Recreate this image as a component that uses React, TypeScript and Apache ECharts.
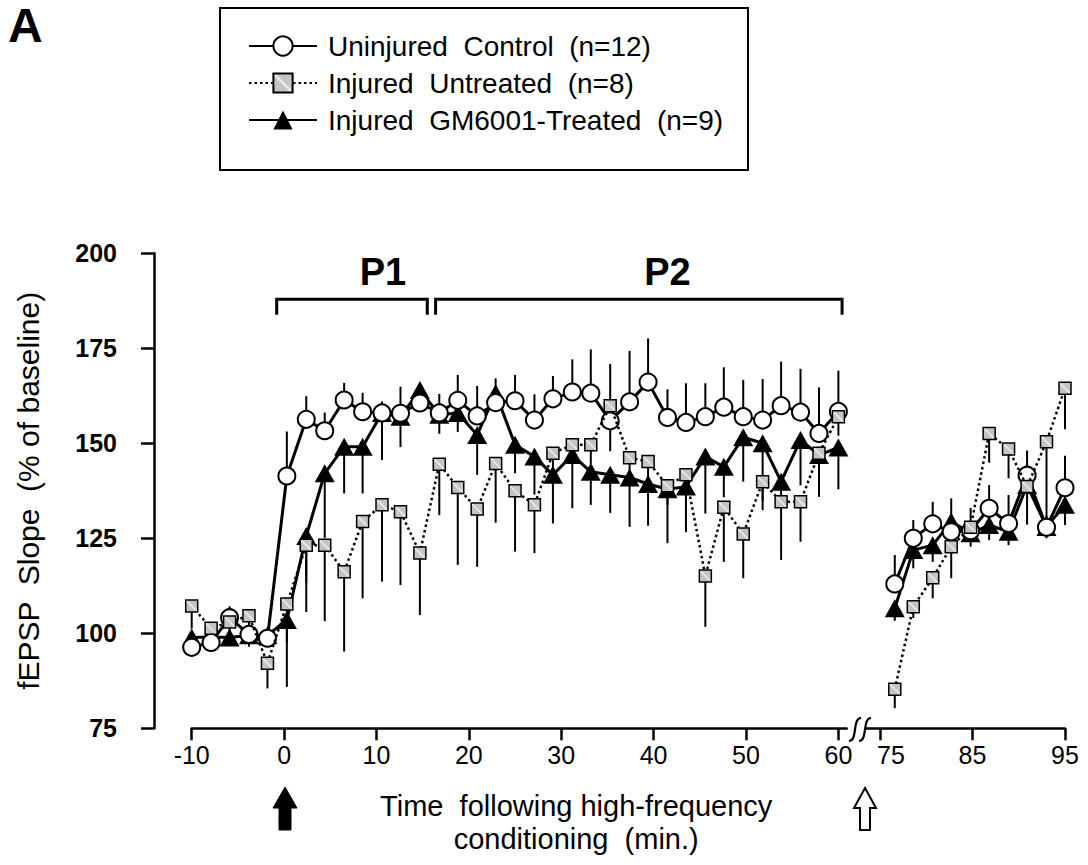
import { useEffect, useRef } from 'react';
import * as echarts from 'echarts';

// ---- data ----
const NAMES = ['Uninjured  Control  (n=12)', 'Injured  Untreated  (n=8)', 'Injured  GM6001-Treated  (n=9)'];

const leftTimes = [-10, -7.9, -5.9, -3.8, -1.8, 0.3, 2.4, 4.4, 6.5, 8.5, 10.6, 12.6, 14.7, 16.8, 18.8, 20.9, 22.9, 25.0, 27.1, 29.1, 31.2, 33.2, 35.3, 37.4, 39.4, 41.5, 43.5, 45.6, 47.6, 49.7, 51.8, 53.8, 55.9, 57.9, 60.0];
const rightTimes = [76.6, 78.6, 80.7, 82.7, 84.8, 86.8, 88.9, 90.9, 93.0, 95.0];

const controlLeft = [96.3, 97.6, 104.1, 99.7, 98.7, 141.4, 156.3, 153.3, 161.4, 158.3, 158.0, 157.9, 160.6, 158.0, 161.3, 157.2, 160.7, 161.2, 156.1, 161.7, 163.5, 163.2, 155.9, 160.9, 166.1, 156.8, 155.5, 157.0, 159.5, 157.0, 156.1, 159.9, 158.2, 152.6, 158.4];
const controlLeftErr = [2, 3, 3, 2, 2, 11.7, 6.1, 4.8, 4.5, 5, 3, 7, 3, 5, 6.7, 7.9, 6.4, 6.8, 6.8, 6, 8.6, 11.5, 15, 13.4, 11.5, 7.4, 10.3, 8.8, 10.5, 9.7, 10.8, 11.6, 11.4, 12.1, 10.7];
const untreatedLeft = [107.2, 101.3, 103.0, 104.6, 92.1, 107.7, 123.2, 123.2, 116.2, 129.4, 133.8, 132.0, 121.1, 144.5, 138.4, 132.7, 144.7, 137.5, 133.8, 147.4, 149.6, 149.6, 159.9, 146.2, 145.2, 138.8, 141.7, 115.1, 133.2, 126.1, 139.9, 134.6, 134.6, 147.4, 157.0];
const untreatedLeftErr = [6, 5, 3, 5, 6.6, 10, 10, 20, 21, 20.2, 20.2, 19.3, 16.3, 13.4, 20.4, 15.2, 15.6, 16, 12.7, 5, 5, 5, 12, 5, 5, 5, 5, 13.4, 14.4, 11.6, 5, 15.3, 10.5, 5, 5];
const gmLeft = [98.9, 99.0, 98.9, 99.5, 99.5, 103.5, 125.6, 142.1, 149.1, 149.1, 158.0, 157.0, 164.0, 157.5, 158.0, 152.2, 163.2, 149.6, 146.5, 141.7, 146.9, 142.5, 141.7, 141.0, 139.3, 137.9, 138.6, 146.5, 143.8, 151.6, 150.0, 139.9, 150.9, 146.9, 148.9];
const gmLeftErr = [3, 3, 2, 3, 3, 17.6, 20, 17, 12.3, 12.3, 12.4, 8, 3, 5, 5, 10.5, 4, 7.5, 10, 12.8, 14, 8.7, 10, 13, 11, 14.2, 12, 15, 8, 11.7, 17.6, 5, 12, 11, 11];

const controlRight = [113.0, 125.0, 128.8, 126.7, 127.0, 132.9, 128.9, 141.6, 127.9, 138.3];
const controlRightErr = [7.6, 4.8, 5.8, 8.8, 6, 6.1, 7.5, 6.5, 3, 8.4];
const untreatedRight = [85.3, 107.0, 114.6, 122.8, 127.9, 152.6, 148.5, 138.6, 150.4, 164.5];
const untreatedRightErr = [5, 3, 5.4, 8.3, 3, 7.7, 7.7, 10, 22, 10.8];
const gmRight = [106.6, 121.9, 123.2, 129.4, 126.3, 128.5, 126.7, 139.0, 128.0, 133.8];
const gmRightErr = [3.3, 4.8, 4.4, 3, 3.5, 4, 3.5, 3, 3, 5.3];

const leftTicks = [-10, 0, 10, 20, 30, 40, 50, 60];
const rightTicks = [75, 85, 95];

// brackets: start, end, label position (minutes), label text
const bracketStart = [-0.8, 16.4];
const bracketEnd = [15.5, 60.4];
const bracketLabelX = [10.7, 41.5];
const bracketLabels = ['P1', 'P2'];
const BRACKET_TOP = 187.9;
const BRACKET_FOOT = 183.8;
const BRACKET_LABEL_Y = 195.2;

const SANS = "'Liberation Sans', Arial, sans-serif";

const pairs = (ts: number[], vs: number[]) => ts.map((t, i) => [t, vs[i]]);
const errDown = (ts: number[], vs: number[], es: number[]) => ts.map((t, i) => [t, vs[i] - es[i], vs[i]]);
const errUp = (ts: number[], vs: number[], es: number[]) => ts.map((t, i) => [t, vs[i], vs[i] + es[i]]);

export default function App() {
  const ref = useRef<HTMLDivElement>(null);

  useEffect(() => {
    const chart = echarts.init(ref.current!, null, { renderer: 'svg' });

    const squareFill = new echarts.graphic.LinearGradient(0, 1, 1, 0, [
      { offset: 0, color: '#c4c4c4' },
      { offset: 0.42, color: '#c4c4c4' },
      { offset: 0.5, color: '#f2f2f2' },
      { offset: 0.58, color: '#c4c4c4' },
      { offset: 1, color: '#c4c4c4' },
    ]);

    const controlStyle = {
      type: 'line', name: NAMES[0], symbol: 'circle', symbolSize: 17,
      itemStyle: { color: '#fff', borderColor: '#000', borderWidth: 2 },
      lineStyle: { color: '#000', width: 3 }, z: 3, emphasis: { disabled: true }, silent: true,
    };
    const untreatedStyle = {
      type: 'line', name: NAMES[1], symbol: 'rect', symbolSize: 12,
      itemStyle: { color: squareFill, borderColor: '#000', borderWidth: 1.5 },
      lineStyle: { color: '#000', width: 2.5, type: [2.5, 3] }, z: 4, emphasis: { disabled: true }, silent: true,
    };
    const gmStyle = {
      type: 'line', name: NAMES[2], symbol: 'triangle', symbolSize: [20, 18],
      itemStyle: { color: '#000', borderColor: '#000', borderWidth: 0 },
      lineStyle: { color: '#000', width: 3 }, z: 2, emphasis: { disabled: true }, silent: true,
    };

    const errSeries = (data: number[][], gridIdx: number) => ({
      type: 'custom', xAxisIndex: gridIdx, yAxisIndex: gridIdx, z: 1, silent: true,
      encode: { x: 0, y: [1, 2] },
      data,
      renderItem: (_p: any, api: any) => {
        const a = api.coord([api.value(0), api.value(1)]);
        const b = api.coord([api.value(0), api.value(2)]);
        return { type: 'line', shape: { x1: a[0], y1: a[1], x2: b[0], y2: b[1] }, style: { stroke: '#000', lineWidth: 2 } };
      },
    });

    const bracketData = bracketStart.map((s, i) => [s, bracketEnd[i], bracketLabelX[i]]);

    const axisLineStyle = { color: '#000', width: 2.5 };
    const tickFont = { color: '#000', fontFamily: SANS, fontSize: 25 };

    const option: any = {
      animation: false,
      backgroundColor: '#fff',
      grid: [
        { left: 191.7, top: 253.3, width: 655, height: 475 },
        { left: 866.1, top: 253.3, width: 198.9, height: 475 },
      ],
      xAxis: [
        {
          type: 'value', gridIndex: 0, min: -10, max: 60.9,
          axisLine: { onZero: false, lineStyle: axisLineStyle },
          axisTick: { customValues: leftTicks, length: 12, lineStyle: axisLineStyle },
          axisLabel: { customValues: leftTicks, margin: 14, ...tickFont },
          splitLine: { show: false },
          name: 'Time  following high-frequency\nconditioning  (min.)',
          nameLocation: 'middle', nameGap: 61,
          nameTextStyle: { fontFamily: SANS, fontSize: 29, lineHeight: 33, color: '#000', padding: [0, 0, 0, 114] },
        },
        {
          type: 'value', gridIndex: 1, min: 73.5, max: 95,
          axisLine: { onZero: false, lineStyle: axisLineStyle },
          axisTick: { customValues: rightTicks, length: 12, lineStyle: axisLineStyle },
          axisLabel: {
            customValues: rightTicks, margin: 14, ...tickFont,
            formatter: (v: number) => (v === 75 ? '{s|75}' : String(v)),
            rich: { s: { padding: [0, 0, 0, 22], ...tickFont } },
          },
          splitLine: { show: false },
        },
      ],
      yAxis: [
        {
          type: 'value', gridIndex: 0, min: 75, max: 200, interval: 25, offset: 37.7,
          axisLine: { show: true, onZero: false, lineStyle: axisLineStyle },
          axisTick: { show: true, length: 13, lineStyle: axisLineStyle },
          axisLabel: { margin: 37, color: '#000', fontFamily: SANS, fontWeight: 'bold', fontSize: 25 },
          splitLine: { show: false },
          name: 'fEPSP  Slope  (% of baseline)', nameLocation: 'middle', nameGap: 111,
          nameTextStyle: { fontFamily: SANS, fontSize: 30, color: '#000' },
        },
        { type: 'value', gridIndex: 1, min: 75, max: 200, show: false },
      ],
      legend: {
        orient: 'vertical', left: 243, top: 27, itemWidth: 68, itemHeight: 24, itemGap: 9,
        data: NAMES, selectedMode: false,
        textStyle: { fontFamily: SANS, fontSize: 28, color: '#000', padding: [0, 0, 0, 6] },
      },
      graphic: [
        { type: 'rect', shape: { x: 220, y: 8, width: 528, height: 162 }, style: { stroke: '#000', lineWidth: 2, fill: 'none' } },
        { type: 'text', x: 8, y: 25, style: { text: 'A', font: "bold 48px 'Liberation Sans', Arial, sans-serif", fill: '#000', verticalAlign: 'middle' } },
        { type: 'polygon', shape: { points: [[285, 787], [297, 808], [291, 808], [291, 830], [279, 830], [279, 808], [273, 808]] }, style: { fill: '#000', stroke: '#000', lineWidth: 1 } },
        { type: 'polygon', shape: { points: [[865, 788], [876, 808], [870, 808], [870, 830], [860, 830], [860, 808], [854, 808]] }, style: { fill: '#fff', stroke: '#000', lineWidth: 2 } },
        { type: 'bezierCurve', shape: { x1: 849, y1: 741, cpx1: 858, cpy1: 741, cpx2: 852, cpy2: 718, x2: 861, y2: 718 }, style: { stroke: '#000', lineWidth: 2.2, fill: 'none' } },
        { type: 'bezierCurve', shape: { x1: 859, y1: 741, cpx1: 868, cpy1: 741, cpx2: 862, cpy2: 718, x2: 871, y2: 718 }, style: { stroke: '#000', lineWidth: 2.2, fill: 'none' } },
      ],
      series: [
        errSeries(errUp(leftTimes, controlLeft, controlLeftErr), 0),
        errSeries(errDown(leftTimes, untreatedLeft, untreatedLeftErr), 0),
        errSeries(errDown(leftTimes, gmLeft, gmLeftErr), 0),
        errSeries(errUp(rightTimes, controlRight, controlRightErr), 1),
        errSeries(errDown(rightTimes, untreatedRight, untreatedRightErr), 1),
        errSeries(errDown(rightTimes, gmRight, gmRightErr), 1),
        { ...gmStyle, xAxisIndex: 0, yAxisIndex: 0, data: pairs(leftTimes, gmLeft) },
        { ...controlStyle, xAxisIndex: 0, yAxisIndex: 0, data: pairs(leftTimes, controlLeft) },
        { ...untreatedStyle, xAxisIndex: 0, yAxisIndex: 0, data: pairs(leftTimes, untreatedLeft) },
        { ...gmStyle, xAxisIndex: 1, yAxisIndex: 1, data: pairs(rightTimes, gmRight) },
        { ...controlStyle, xAxisIndex: 1, yAxisIndex: 1, data: pairs(rightTimes, controlRight) },
        { ...untreatedStyle, xAxisIndex: 1, yAxisIndex: 1, data: pairs(rightTimes, untreatedRight) },
        {
          type: 'custom', name: 'brackets', xAxisIndex: 0, yAxisIndex: 0, silent: true, z: 5,
          encode: { x: [0, 1, 2] },
          data: bracketData,
          renderItem: (p: any, api: any) => {
            const x0 = api.value(0), x1 = api.value(1), xl = api.value(2);
            const top0 = api.coord([x0, BRACKET_TOP]);
            const top1 = api.coord([x1, BRACKET_TOP]);
            const footY = api.coord([x0, BRACKET_FOOT])[1];
            const lp = api.coord([xl, BRACKET_LABEL_Y]);
            return {
              type: 'group',
              children: [
                { type: 'polyline', shape: { points: [[top0[0], footY], [top0[0], top0[1]], [top1[0], top1[1]], [top1[0], footY]] }, style: { stroke: '#000', lineWidth: 3, fill: 'none' } },
                { type: 'text', x: lp[0], y: lp[1], style: { text: bracketLabels[p.dataIndex], fill: '#000', font: "bold 38px 'Liberation Sans', Arial, sans-serif", align: 'center', verticalAlign: 'middle' } },
              ],
            };
          },
        },
      ],
    };

    chart.setOption(option);
    return () => chart.dispose();
  }, []);

  return <div ref={ref} style={{ position: 'fixed', left: 0, top: 0, width: 1088, height: 865, background: '#fff' }} />;
}
